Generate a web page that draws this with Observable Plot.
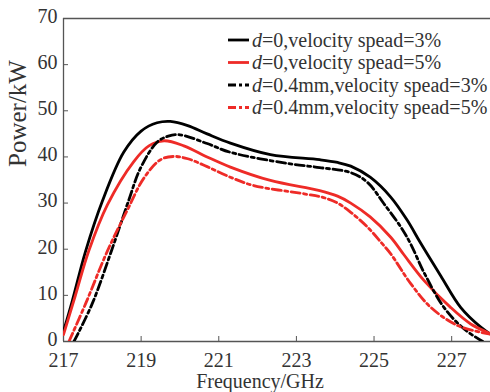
<!DOCTYPE html>
<html><head><meta charset="utf-8">
<script src="https://cdn.jsdelivr.net/npm/d3@7"></script>
<script src="https://cdn.jsdelivr.net/npm/@observablehq/plot@0.6"></script>
<style>html,body{margin:0;padding:0;background:#fff;} svg{display:block;}</style>
</head><body><div id="chart"></div>
<script>
const xTicks = [217, 219, 221, 223, 225, 227];
const yTicks = [0, 10, 20, 30, 40, 50, 60, 70];
const xLabel = "Frequency/GHz";
const yLabel = "Power/kW";
const seriesNames = ["=0,velocity spead=3%", "=0,velocity spead=5%", "=0.4mm,velocity spead=3%", "=0.4mm,velocity spead=5%"];

// d=0, velocity spread 3%
const s1F = [217, 217.22, 217.57, 218.0, 218.55, 219.0, 219.41, 219.75, 220.2, 220.7, 221.3, 222.33, 223.6, 224.06, 224.4, 224.9, 225.43, 225.86, 226.18, 226.72, 227.23, 227.75, 228];
const s1P = [2.2, 8.6, 19.6, 30.4, 41.0, 45.6, 47.4, 47.7, 46.8, 45.0, 43.0, 40.5, 39.4, 38.8, 38.0, 35.6, 31.3, 26.2, 21.6, 14.2, 7.4, 3.1, 1.6];
// d=0, velocity spread 5%
const s2F = [217, 217.3, 217.65, 218.13, 218.81, 219.2, 219.59, 220.1, 220.7, 221.3, 222.33, 223.6, 224.06, 224.4, 224.9, 225.43, 225.77, 226.29, 226.97, 227.49, 228];
const s2P = [1.5, 9.8, 19.6, 29.6, 39.0, 42.4, 43.5, 42.4, 40.0, 37.8, 34.9, 32.7, 31.5, 30.0, 27.0, 22.6, 18.8, 13.2, 7.4, 3.8, 1.7];
// d=0.4mm, velocity spread 3%
const s3F = [217.27, 217.74, 218.25, 218.68, 218.98, 219.41, 219.7, 220.0, 220.7, 221.3, 222.77, 223.6, 224.4, 224.83, 225.26, 225.69, 225.94, 226.29, 226.8, 227.32, 227.8];
const s3P = [0, 8.2, 20.0, 30.6, 37.5, 43.2, 44.5, 44.8, 42.9, 41.0, 38.6, 37.7, 36.6, 34.5, 29.8, 24.8, 21.2, 14.9, 7.4, 2.7, 0];
// d=0.4mm, velocity spread 5%
const s4F = [217.14, 217.57, 218.13, 218.64, 219.07, 219.5, 219.84, 220.2, 220.7, 221.3, 221.9, 223.2, 223.7, 224.06, 224.4, 224.83, 225.21, 225.43, 225.94, 226.46, 227.14, 227.75, 228];
const s4P = [0, 8.2, 19.6, 28.4, 35.4, 39.4, 40.1, 39.6, 37.9, 35.6, 33.8, 32.0, 31.2, 30.0, 28.0, 24.8, 21.2, 19.0, 12.6, 7.4, 3.5, 2.0, 1.6];

const RED = "#ee2b27", BLACK = "#000000", DASH = "9,3.5,3,3.5";
const styles = [
  {stroke: BLACK, dash: null},
  {stroke: RED, dash: null},
  {stroke: BLACK, dash: DASH},
  {stroke: RED, dash: DASH}
];
const series = [[s1F, s1P], [s2F, s2P], [s3F, s3P], [s4F, s4P]].map(([F, P]) => F.map((f, i) => ({f, p: P[i]})));

const FONT = "'Liberation Serif', 'Times New Roman', serif";
const AX = "#555";

const chart = Plot.plot({
  width: 490, height: 392,
  marginLeft: 63, marginRight: 0, marginTop: 18, marginBottom: 51,
  style: {fontFamily: FONT, color: "#333", background: "#fff"},
  x: {domain: [217, 228]},
  y: {domain: [0, 70]},
  marks: [
    // labels
    Plot.axisX({ticks: xTicks, tickSize: 0, tickPadding: 11, tickFormat: d => String(d), fontSize: 20, label: null, fill: "#333"}),
    Plot.axisY({ticks: yTicks, tickSize: 0, tickPadding: 6, tickFormat: d => String(d), fontSize: 20, label: null, fill: "#333", dy: -2}),
    // inward ticks
    Plot.axisX({ticks: xTicks.slice(1), tickSize: 5, dy: -5, text: null, label: null, stroke: AX}),
    Plot.axisY({ticks: yTicks.slice(1, -1), tickSize: 5, dx: 5, text: null, label: null, stroke: AX}),
    // frame
    Plot.ruleX([217], {stroke: AX, strokeWidth: 1.3}),
    Plot.ruleY([0], {stroke: AX, strokeWidth: 1.3}),
    Plot.ruleY([70], {stroke: AX, strokeWidth: 1.3}),
    // curves
    ...series.map((data, i) => Plot.line(data, {
      x: "f", y: "p", curve: "catmull-rom", clip: true,
      stroke: styles[i].stroke, strokeWidth: 2.8, strokeDasharray: styles[i].dash
    })),
    // axis titles
    Plot.text([xLabel], {text: d => d, frameAnchor: "bottom", dx: -17, dy: 46, lineAnchor: "bottom", fontSize: 20, fill: "#333"}),
    Plot.text([yLabel], {text: d => d, frameAnchor: "left", rotate: -90, dx: -38, dy: -13, lineAnchor: "bottom", fontSize: 25, fill: "#333"})
  ]
});

// legend
const svg = d3.select(chart);
const lg = svg.append("g").attr("font-family", FONT).attr("font-size", 20).attr("fill", "#333").attr("text-anchor", "start");
const rowY = [40, 62.5, 85, 107.5];
seriesNames.forEach((name, i) => {
  lg.append("line").attr("x1", 228).attr("x2", 249).attr("y1", rowY[i]).attr("y2", rowY[i])
    .attr("stroke", styles[i].stroke).attr("stroke-width", 2.8)
    .attr("stroke-dasharray", styles[i].dash ? "8,3,3,3" : null);
  const t = lg.append("text").attr("x", 252).attr("y", rowY[i] + 6.5).attr("text-anchor", "start");
  t.append("tspan").attr("font-style", "italic").text("d");
  t.append("tspan").text(name);
});

document.getElementById("chart").appendChild(chart);
</script>
</body></html>
